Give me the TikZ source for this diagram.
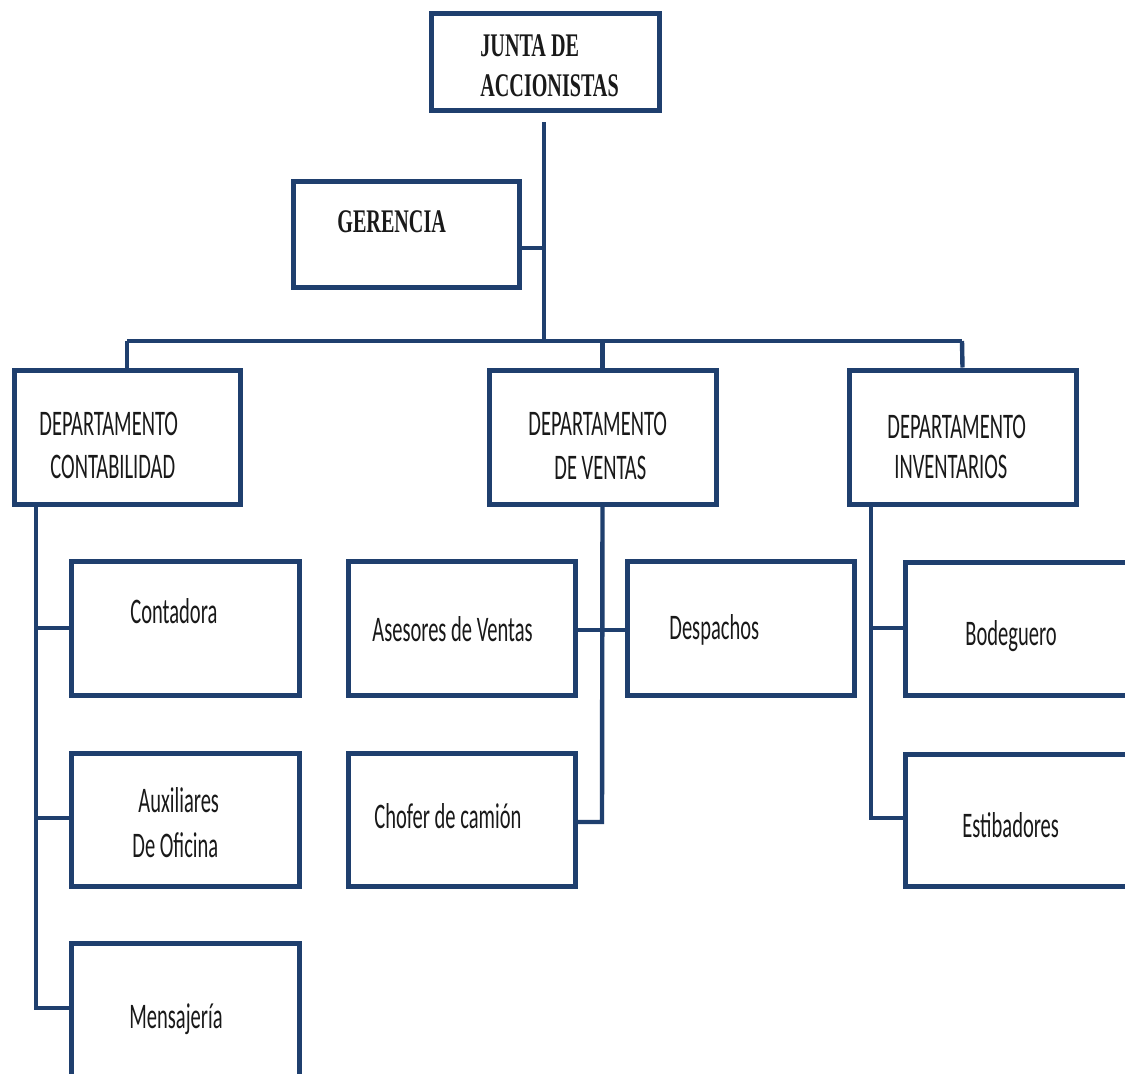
\documentclass[tikz,border=0pt]{standalone}
\usepackage{fontspec}
\newfontfamily\calf[FakeStretch=0.57]{Carlito}
\newfontfamily\serf[FakeStretch=0.61]{Liberation Serif}
\definecolor{orgblue}{RGB}{31,63,110}
\definecolor{txt}{RGB}{25,25,25}
\tikzset{
  box/.style={draw=orgblue, line width=2.5pt, fill=white, rectangle, inner sep=0pt},
  link/.style={draw=orgblue, line width=2.2pt},
  lbl/.style={anchor=base west, inner sep=0pt, text=txt, font=\calf\fontsize{18pt}{20pt}\selectfont},
  slbl/.style={anchor=base west, inner sep=0pt, text=txt, font=\serf\bfseries\fontsize{16.5pt}{18pt}\selectfont}
}
\begin{document}
\begin{tikzpicture}[x=0.5pt,y=-0.5pt]
\clip (0,0) rectangle (1125,1073);
\fill[white] (0,0) rectangle (1125,1073);
% boxes
\node[box, minimum width=228*0.5pt, minimum height=97*0.5pt] (junta) at (545,61.5) {};
\node[box, minimum width=226*0.5pt, minimum height=106*0.5pt] (ger) at (406,234) {};
\node[box, minimum width=226*0.5pt, minimum height=134*0.5pt] (cont) at (127,437) {};
\node[box, minimum width=227*0.5pt, minimum height=134*0.5pt] (vent) at (602.5,437) {};
\node[box, minimum width=227*0.5pt, minimum height=134*0.5pt] (inv) at (962.5,437) {};
\node[box, minimum width=228*0.5pt, minimum height=134*0.5pt] (conta) at (185,628) {};
\node[box, minimum width=228*0.5pt, minimum height=133*0.5pt] (aux) at (185,819.5) {};
\node[box, minimum width=228*0.5pt, minimum height=167*0.5pt] (mens) at (185,1026.5) {};
\node[box, minimum width=227*0.5pt, minimum height=134*0.5pt] (ases) at (461.5,628) {};
\node[box, minimum width=227*0.5pt, minimum height=134*0.5pt] (desp) at (740.5,628) {};
\node[box, minimum width=227*0.5pt, minimum height=133*0.5pt] (chof) at (461.5,819.5) {};
\node[box, minimum width=245*0.5pt, minimum height=133*0.5pt] (bod) at (1027.5,628.5) {};
\node[box, minimum width=245*0.5pt, minimum height=132*0.5pt] (esti) at (1027.5,820) {};
% connector coordinates
\coordinate (ttop) at (544,122);
\coordinate (bus) at (544,341);
\coordinate (busL) at (127,341);
\coordinate (busR) at (962,341);
\coordinate (cl) at (36,1008);
\coordinate (vl) at (602,822);
\coordinate (il) at (871,818);
% connectors
\draw[link] (ttop) -- (bus);
\draw[link] (ger.east |- 0,248) -- (544,248);
\draw[link] (busL) -- (busR);
\draw[link] (busL) -- (cont.north);
\draw[link] (vent.north |- bus) -- (vent.north);
\draw[link] (busR) -- (inv.north);
% contabilidad
\draw[link] (cl |- cont.south) -- (cl) -- (cl -| mens.west);
\draw[link] (36,628) -- (conta.west);
\draw[link] (36,818) -- (aux.west |- 0,818);
% ventas
\draw[link] (vent.south) -- (vl) -- (vl -| chof.east);
\draw[link] (ases.east |- 0,630) -- (desp.west |- 0,630);
% inventarios
\draw[link] (il |- inv.south) -- (il) -- (il -| esti.west);
\draw[link] (871,628) -- (bod.west |- 0,628);
% labels
\node[slbl] (t1) at (480,56) {JUNTA DE};
\node[slbl] (t2) at (480,96) {ACCIONISTAS};
\node[slbl] (t3) at (337,232) {GERENCIA};
\node[lbl] (t4) at (39,435) {DEPARTAMENTO};
\node[lbl] (t5) at (50,478) {CONTABILIDAD};
\node[lbl] (t6) at (528,435) {DEPARTAMENTO};
\node[lbl] (t7) at (554,479) {DE VENTAS};
\node[lbl] (t8) at (887,438) {DEPARTAMENTO};
\node[lbl] (t9) at (894,478) {INVENTARIOS};
\node[lbl] (t10) at (130,623) {Contadora};
\node[lbl] (t11) at (138,812) {Auxiliares};
\node[lbl] (t12) at (132,857) {De Oficina};
\node[lbl] (t13) at (129,1028) {Mensajería};
\node[lbl] (t14) at (372,641) {Asesores de Ventas};
\node[lbl] (t15) at (669,639) {Despachos};
\node[lbl] (t16) at (374,828) {Chofer de camión};
\node[lbl] (t17) at (965,645) {Bodeguero};
\node[lbl] (t18) at (962,837) {Estibadores};
\end{tikzpicture}
\end{document}
